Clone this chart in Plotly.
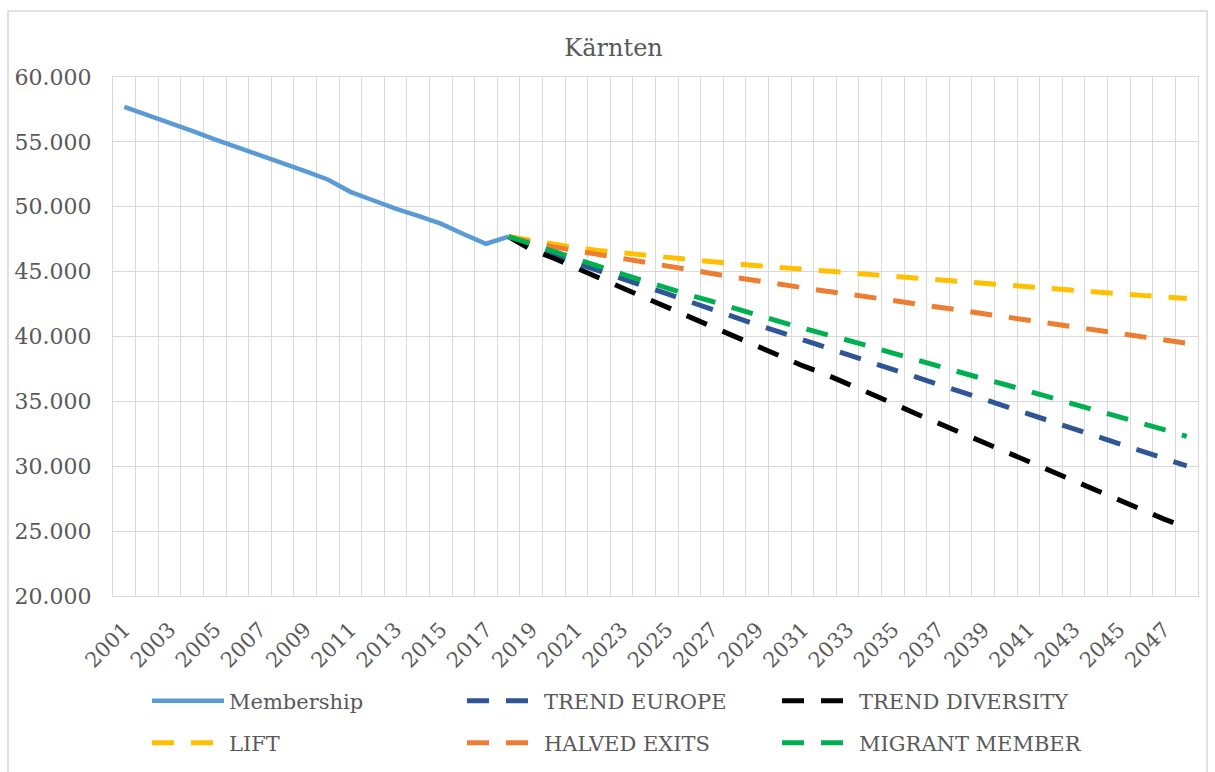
import plotly.graph_objects as go

years_hist = list(range(2001, 2019))
membership = [57700, 57100, 56450, 55850, 55200, 54600, 53950, 53350, 52750, 52100,
              51150, 50500, 49850, 49300, 48700, 47900, 47150, 47700]

years_proj = list(range(2018, 2049))
trend_europe = [47700, 46950, 46300, 45650, 45060, 44530, 43980, 43300, 42690, 42060,
                41470, 40900, 40340, 39790, 39200, 38600, 38030, 37460, 36910, 36370,
                35820, 35240, 34650, 34050, 33480, 32900, 32330, 31760, 31190, 30610, 30030]
trend_diversity = [47700, 46700, 46030, 45270, 44530, 43780, 43020, 42290, 41540, 40800,
                   40040, 39260, 38470, 37750, 37100, 36380, 35620, 34850, 34070, 33330,
                   32580, 31830, 31070, 30320, 29590, 28860, 28130, 27400, 26660, 25930, 25250]
lift = [47700, 47400, 47110, 46850, 46620, 46440, 46280, 46100, 45930, 45750,
        45600, 45460, 45320, 45170, 45030, 44880, 44740, 44610, 44480, 44350,
        44230, 44100, 43960, 43830, 43700, 43570, 43430, 43300, 43170, 43040, 42920]
halved_exits = [47700, 47250, 46900, 46600, 46330, 46000, 45700, 45400, 45120, 44820,
                44560, 44300, 44020, 43760, 43500, 43280, 43030, 42780, 42530, 42280,
                42040, 41800, 41530, 41260, 41000, 40760, 40520, 40260, 40000, 39750, 39480]
migrant_member = [47700, 47150, 46530, 45960, 45400, 44830, 44260, 43730, 43200, 42700,
                  42160, 41610, 41140, 40660, 40200, 39730, 39240, 38720, 38200, 37700,
                  37220, 36740, 36280, 35800, 35310, 34820, 34320, 33820, 33320, 32820, 32300]

tick_years = list(range(2001, 2048, 2))
y_ticks = list(range(20000, 60001, 5000))

FONT = "DejaVu Serif"
GRAY = "#595959"
GRID = "#d9d9d9"
DASH = "22px,17px"

fig = go.Figure()
fig.add_trace(go.Scatter(x=years_hist, y=membership, name="Membership", mode="lines",
                         line=dict(color="#5B9BD5", width=4.5), legend="legend"))
fig.add_trace(go.Scatter(x=years_proj, y=trend_europe, name="TREND EUROPE", mode="lines",
                         line=dict(color="#2F5597", width=5, dash=DASH), legend="legend"))
fig.add_trace(go.Scatter(x=years_proj, y=trend_diversity, name="TREND DIVERSITY", mode="lines",
                         line=dict(color="#000000", width=5, dash=DASH), legend="legend"))
fig.add_trace(go.Scatter(x=years_proj, y=lift, name="LIFT", mode="lines",
                         line=dict(color="#FFC000", width=5, dash=DASH), legend="legend2"))
fig.add_trace(go.Scatter(x=years_proj, y=halved_exits, name="HALVED EXITS", mode="lines",
                         line=dict(color="#ED7D31", width=5, dash=DASH), legend="legend2"))
fig.add_trace(go.Scatter(x=years_proj, y=migrant_member, name="MIGRANT MEMBER", mode="lines",
                         line=dict(color="#00B050", width=5, dash=DASH), legend="legend2"))

legend_common = dict(orientation="h", xanchor="left", yanchor="middle",
                     xref="container", yref="container",
                     entrywidth=228, entrywidthmode="pixels",
                     font=dict(family=FONT, size=21, color=GRAY),
                     bgcolor="rgba(0,0,0,0)", itemwidth=72)

fig.update_layout(
    width=1215, height=772,
    margin=dict(l=113, r=17, t=77, b=176, autoexpand=False),
    paper_bgcolor="white", plot_bgcolor="white",
    separators=",.",
    title=dict(text="Kärnten", x=0.505, xref="container", y=1 - 48 / 772, yref="container",
               xanchor="center", yanchor="middle",
               font=dict(family=FONT, size=24, color=GRAY)),
    xaxis=dict(range=[2000.5, 2048.5], tickmode="array", tickvals=tick_years,
               ticktext=[str(y) for y in tick_years], tickangle=-45, automargin=False,
               showgrid=False, zeroline=False, ticks="", ticklabelstandoff=12,
               showline=True, linecolor=GRID, linewidth=1, mirror=True,
               tickfont=dict(family=FONT, size=21, color=GRAY),
               minor=dict(tick0=2000.5, dtick=1, showgrid=True, gridcolor=GRID, gridwidth=1.3)),
    yaxis=dict(range=[20000, 60000], tickmode="array", tickvals=y_ticks, automargin=False,
               tickformat=",.0f", showgrid=True, gridcolor=GRID, gridwidth=1.3,
               zeroline=False, ticks="", showline=True, linecolor=GRID, mirror=True,
               ticklabelstandoff=16,
               tickfont=dict(family=FONT, size=22, color=GRAY)),
    legend=dict(x=147 / 1215, y=1 - 701 / 772, **legend_common),
    legend2=dict(x=147 / 1215, y=1 - 743 / 772, **legend_common),
    showlegend=True,
)

fig.add_shape(type="rect", xref="paper", yref="paper",
              x0=(8 - 113) / 1085, x1=(1207 - 113) / 1085,
              y0=(596 - 790) / 519, y1=(596 - 11) / 519,
              line=dict(color=GRID, width=1.5), fillcolor="rgba(0,0,0,0)", layer="below")

fig.write_html("out.html", config={"displayModeBar": False},
               post_script="document.body.style.margin='0';")
